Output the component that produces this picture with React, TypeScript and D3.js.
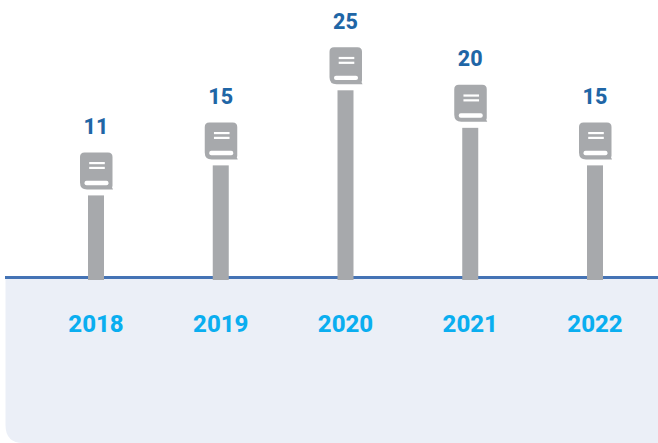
import React from "react";
import * as d3 from "d3";

const years = ["2018", "2019", "2020", "2021", "2022"];
const values = [11, 15, 25, 20, 15];

const W = 658, H = 443;
const baseY = 278;

const x = d3.scalePoint<string>().domain(years).range([96, 595]);
const y = d3.scaleLinear().domain([0, 25]).range([baseY, 90.3]);

const FONT = "Roboto, 'Open Sans', sans-serif";

const panelPath = (() => {
  const p = d3.path();
  const l = 5.5, t = baseY, r = W, b = H, rad = 18;
  p.moveTo(l, t);
  p.lineTo(r, t);
  p.lineTo(r, b);
  p.lineTo(l + rad, b);
  p.quadraticCurveTo(l, b, l, b - rad);
  p.closePath();
  return p.toString();
})();

function Book({ cx, top }: { cx: number; top: number }) {
  return (
    <g transform={`translate(${cx},${top})`}>
      <path
        d="M-11.5,-43 H12 Q16.5,-43 16.5,-38.5 V-10 Q16.5,-9 16,-8.2 L17,-6 H-9 Q-16,-6 -16,-13 V-38.5 Q-16,-43 -11.5,-43 Z"
        fill="#a7a9ac"
      />
      <rect x={-11.5} y={-14.6} width={24} height={4.4} rx={2} fill="#ffffff" />
      <rect x={-6.8} y={-33.4} width={15.6} height={2.2} fill="#ffffff" />
      <rect x={-6.8} y={-28.6} width={15.6} height={2.2} fill="#ffffff" />
    </g>
  );
}

export default function App() {
  return (
    <svg
      width={W}
      height={H}
      viewBox={`0 0 ${W} ${H}`}
      style={{ position: "absolute", left: 0, top: 0, display: "block", background: "#ffffff" }}
    >
      <path d={panelPath} fill="#ebeff7" />
      <line x1={5} x2={W} y1={277.5} y2={277.5} stroke="#4473b5" strokeWidth={3} />
      {years.map((yr, i) => {
        const cx = x(yr) as number;
        const top = y(values[i]);
        return (
          <g key={yr}>
            <rect x={cx - 8} y={top} width={16} height={baseY + 2 - top} fill="#a7a9ac" />
            <Book cx={cx} top={top} />
            <text
              x={cx}
              y={top - 61.5}
              textAnchor="middle"
              fontFamily={FONT}
              fontWeight={800}
              fontSize={21.5}
              fill="#1f66a6"
            >
              {values[i]}
            </text>
            <text
              x={cx}
              y={332}
              textAnchor="middle"
              fontFamily={FONT}
              fontWeight={800}
              fontSize={24}
              fill="#0aaef0"
            >
              {yr}
            </text>
          </g>
        );
      })}
    </svg>
  );
}
